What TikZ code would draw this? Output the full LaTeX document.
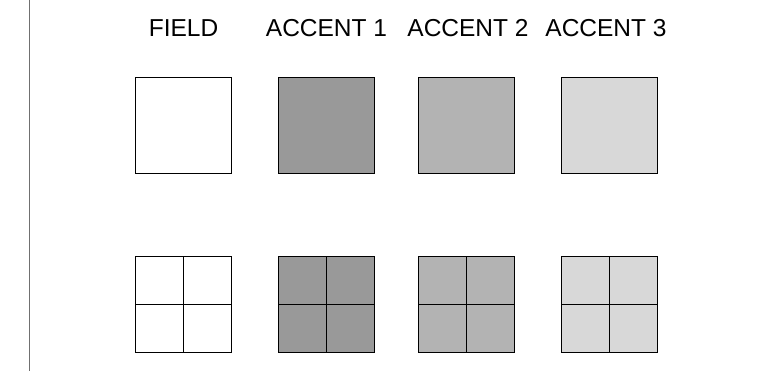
\documentclass[tikz,border=0pt]{standalone}
\usepackage{fontspec}
\setmainfont{Liberation Sans}
\definecolor{acA}{HTML}{999999}
\definecolor{acB}{HTML}{B3B3B3}
\definecolor{acC}{HTML}{D8D8D8}
\definecolor{rule}{HTML}{707070}
\begin{document}
\begin{tikzpicture}[x=1pt,y=-1pt,
  swatch/.style={draw=black,line width=1pt,minimum size=96pt,inner sep=0pt,outer sep=0pt},
  lbl/.style={anchor=base,inner sep=0pt,font=\fontsize{24.5}{28}\selectfont},
  grid/.style={draw=black,line width=1pt}]
\useasboundingbox (0,0) rectangle (762,371);
\coordinate (rt) at (29.5,0);
\coordinate (rb) at (29.5,371);
\draw[rule,line width=1.5pt] (rt) -- (rb);
\node[lbl] (l0) at (183.5,36.7) {FIELD};
\node[lbl] (l1) at (326.5,36.7) {ACCENT 1};
\node[lbl] (l2) at (468,36.7) {ACCENT 2};
\node[lbl] (l3) at (606,36.7) {ACCENT 3};
\node[swatch,fill=white] (t0) at (183.5,126) {};
\node[swatch,fill=acA] (t1) at (326.7,126) {};
\node[swatch,fill=acB] (t2) at (466.7,126) {};
\node[swatch,fill=acC] (t3) at (609,126) {};
\node[swatch,fill=white] (b0) at (183.5,304.2) {};
\node[swatch,fill=acA] (b1) at (326.7,304.2) {};
\node[swatch,fill=acB] (b2) at (466.7,304.2) {};
\node[swatch,fill=acC] (b3) at (609,304.2) {};
\foreach \n in {b0,b1,b2,b3}{
  \draw[grid] (\n.north) -- (\n.south);
  \draw[grid] (\n.west) -- (\n.east);
}
\end{tikzpicture}
\end{document}
